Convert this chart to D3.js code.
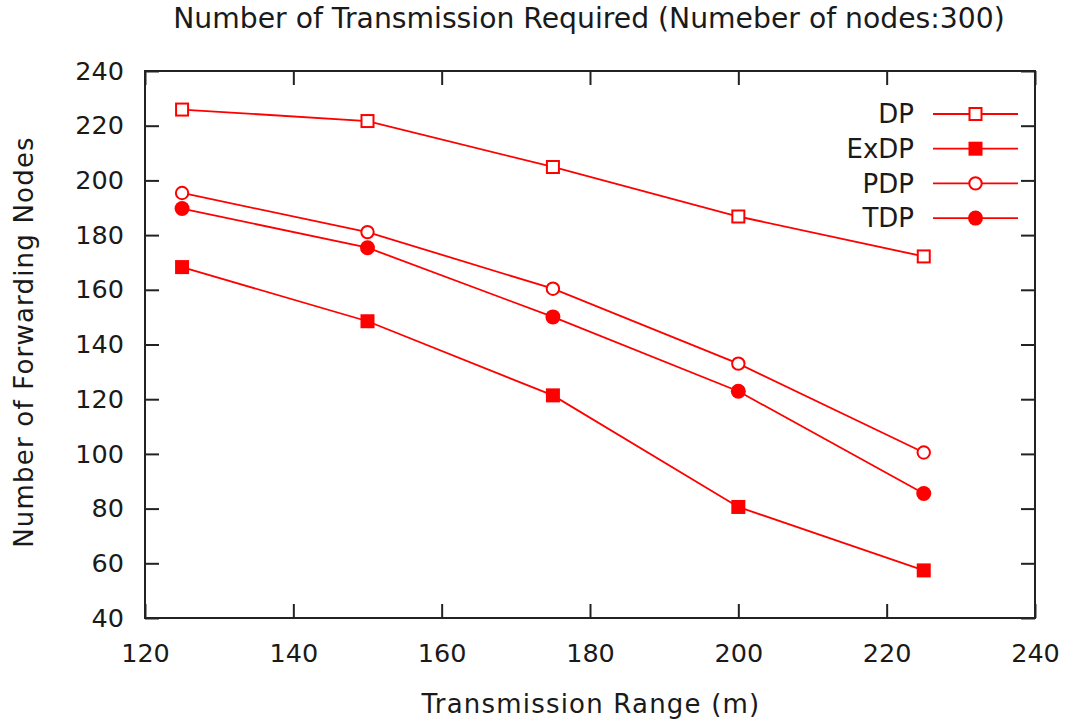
<!DOCTYPE html>
<html>
<head>
<meta charset="utf-8">
<script src="https://cdn.jsdelivr.net/npm/d3@7"></script>
<style>
  html, body { margin: 0; padding: 0; background: #fff; }
  svg { display: block; }
  text { font-family: "DejaVu Sans", Verdana, sans-serif; fill: #1a1a1a; }
</style>
</head>
<body>
<svg id="chart" width="1073" height="724"></svg>
<script>
// Transmission range (m) on the x axis
const ranges = [125, 150, 175, 200, 225];

// Number of forwarding nodes per scheme
const dpValues   = [225.9, 221.7, 204.9, 186.8, 172.2];
const exdpValues = [168.3, 148.5, 121.4, 80.6, 57.4];
const pdpValues  = [195.4, 181.1, 160.4, 133.0, 100.5];
const tdpValues  = [189.7, 175.4, 150.1, 122.9, 85.5];

const seriesNames = ["DP", "ExDP", "PDP", "TDP"];
const xTicks = [120, 140, 160, 180, 200, 220, 240];
const yTicks = [40, 60, 80, 100, 120, 140, 160, 180, 200, 220, 240];

const titleText = "Number of Transmission Required (Numeber of nodes:300)";
const xLabel = "Transmission Range (m)";
const yLabel = "Number of Forwarding Nodes";

const series = [
  { name: seriesNames[0], values: dpValues,   shape: "square", filled: false },
  { name: seriesNames[1], values: exdpValues, shape: "square", filled: true },
  { name: seriesNames[2], values: pdpValues,  shape: "circle", filled: false },
  { name: seriesNames[3], values: tdpValues,  shape: "circle", filled: true }
];

const svg = d3.select("#chart");
const plotLeft = 145, plotRight = 1035, plotTop = 71, plotBottom = 618;
const red = "#ff0000";
const tickFont = 25.5;
const labelFont = 26;

const x = d3.scaleLinear().domain([120, 240]).range([plotLeft, plotRight]);
const y = d3.scaleLinear().domain([40, 240]).range([plotBottom, plotTop]);

// Axes with inward ticks, mirrored on top and right
function styleAxis(g) {
  g.select(".domain").remove();
  g.selectAll(".tick line").attr("stroke", "#222").attr("stroke-width", 2);
  g.selectAll(".tick text").attr("font-size", tickFont).attr("fill", "#1a1a1a")
    .attr("font-family", "DejaVu Sans, Verdana, sans-serif");
}

svg.append("g").attr("transform", `translate(0,${plotBottom})`)
  .call(d3.axisBottom(x).tickValues(xTicks).tickSize(-14).tickPadding(26).tickFormat(d3.format("d")))
  .call(styleAxis);
svg.append("g").attr("transform", `translate(${plotLeft},0)`)
  .call(d3.axisLeft(y).tickValues(yTicks).tickSize(-14).tickPadding(21).tickFormat(d3.format("d")))
  .call(styleAxis);
svg.append("g").attr("transform", `translate(0,${plotTop})`)
  .call(d3.axisTop(x).tickValues(xTicks).tickSize(-14).tickFormat(""))
  .call(styleAxis);
svg.append("g").attr("transform", `translate(${plotRight},0)`)
  .call(d3.axisRight(y).tickValues(yTicks).tickSize(-14).tickFormat(""))
  .call(styleAxis);

// Frame
svg.append("rect")
  .attr("x", plotLeft).attr("y", plotTop)
  .attr("width", plotRight - plotLeft).attr("height", plotBottom - plotTop)
  .attr("fill", "none").attr("stroke", "#222").attr("stroke-width", 2);

// Markers
function drawMarker(g, shape, filled, cx, cy) {
  if (shape === "square") {
    const s = filled ? 14 : 12;
    g.append("rect")
      .attr("x", cx - s / 2).attr("y", cy - s / 2)
      .attr("width", s).attr("height", s)
      .attr("fill", filled ? red : "#fff")
      .attr("stroke", red).attr("stroke-width", filled ? 0 : 2);
  } else {
    const r = filled ? 7.5 : 6.2;
    g.append("circle")
      .attr("cx", cx).attr("cy", cy).attr("r", r)
      .attr("fill", filled ? red : "#fff")
      .attr("stroke", red).attr("stroke-width", filled ? 0 : 2);
  }
}

const line = d3.line().x(d => x(d[0])).y(d => y(d[1]));

series.forEach(s => {
  const pts = ranges.map((r, i) => [r, s.values[i]]);
  const g = svg.append("g");
  g.append("path").datum(pts)
    .attr("d", line).attr("fill", "none")
    .attr("stroke", red).attr("stroke-width", 1.8);
  pts.forEach(p => drawMarker(g, s.shape, s.filled, x(p[0]), y(p[1])));
});

// Legend
const legendTop = 114, legendStep = 34.7;
series.forEach((s, i) => {
  const ly = legendTop + i * legendStep;
  const g = svg.append("g");
  g.append("text").attr("x", 914).attr("y", ly).attr("dy", "0.36em")
    .attr("text-anchor", "end").attr("font-size", labelFont).text(s.name);
  g.append("line").attr("x1", 933).attr("x2", 1018).attr("y1", ly).attr("y2", ly)
    .attr("stroke", red).attr("stroke-width", 1.8);
  drawMarker(g, s.shape, s.filled, 975.5, ly);
});

// Title, sized to span its width
const title = svg.append("text")
  .attr("x", 589).attr("y", 28).attr("text-anchor", "middle")
  .attr("font-family", "DejaVu Sans Condensed, DejaVu Sans, sans-serif")
  .attr("font-size", 24).text(titleText);
const tw = title.node().getComputedTextLength();
title.attr("font-size", 24 * 832 / tw);

// Axis labels
svg.append("text").attr("x", 591).attr("y", 713).attr("text-anchor", "middle")
  .attr("font-size", labelFont).attr("letter-spacing", 1.2).text(xLabel);
svg.append("text").attr("transform", "translate(33,342) rotate(-90)")
  .attr("text-anchor", "middle").attr("font-size", labelFont).attr("letter-spacing", 1.2).text(yLabel);
</script>
</body>
</html>
